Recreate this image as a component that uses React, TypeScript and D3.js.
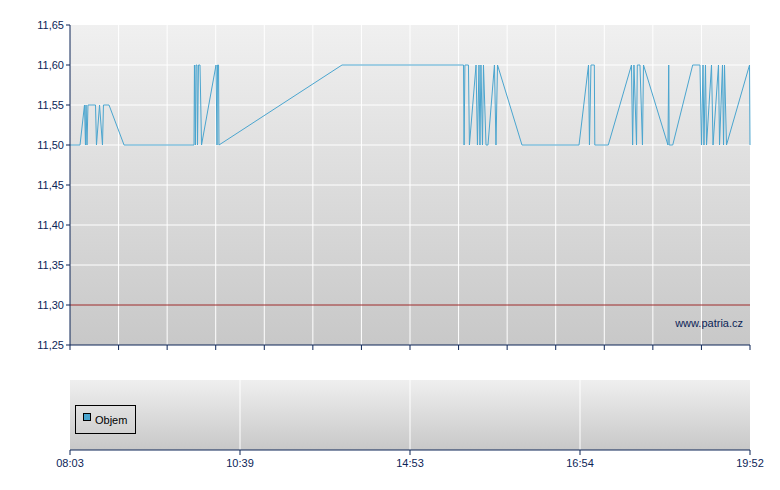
import React from "react";
import * as d3 from "d3";

// Time of trade in minutes since midnight
const times: number[] = [
  483.0, 492.2, 496.3, 497.2, 497.7, 498.6, 499.5, 506.4, 507.3, 510.1, 512.8, 513.7, 518.8, 532.6,
  596.8, 597.2, 598.1, 598.6, 599.5, 600.0, 600.9, 602.3, 603.7, 617.0, 617.9, 618.4, 619.3, 619.7,
  791.4, 930.0, 931.1, 931.5, 932.1, 934.6, 935.3, 940.0, 941.0, 942.1, 942.8, 943.5, 944.6, 945.3,
  947.1, 948.5, 953.1, 954.2, 955.3, 972.7, 1013.3,
  1022.9, 1023.9, 1025.5, 1029.0, 1029.5, 1043.6, 1067.9, 1069.1, 1070.5, 1073.2, 1074.0, 1076.8,
  1079.4, 1080.5, 1106.1, 1106.9, 1107.4, 1111.1, 1132.0, 1139.6,
  1141.2, 1142.8, 1143.8, 1145.4, 1146.5, 1151.7, 1153.3, 1159.0, 1160.1, 1163.2, 1164.3, 1165.3,
  1167.4, 1191.5, 1192.0,
];
const prices: number[] = [
  11.5, 11.5, 11.55, 11.5, 11.55, 11.5, 11.55, 11.55, 11.5, 11.55, 11.5, 11.55, 11.55, 11.5,
  11.5, 11.6, 11.5, 11.6, 11.6, 11.5, 11.6, 11.6, 11.5, 11.6, 11.5, 11.6, 11.6, 11.5,
  11.6, 11.6, 11.6, 11.5, 11.6, 11.6, 11.5, 11.6, 11.5, 11.6, 11.5, 11.6, 11.5, 11.6,
  11.5, 11.5, 11.6, 11.5, 11.6, 11.5, 11.5,
  11.6, 11.5, 11.6, 11.6, 11.5, 11.5, 11.6, 11.5, 11.6, 11.5, 11.6, 11.6,
  11.5, 11.6, 11.5, 11.6, 11.5, 11.5, 11.6, 11.6,
  11.5, 11.6, 11.5, 11.6, 11.5, 11.6, 11.5, 11.6, 11.5, 11.6, 11.5, 11.6,
  11.5, 11.6, 11.5,
];

const axisTimes: number[] = [483, 639, 893, 1014, 1192];
const axisTimeLabels: string[] = ["08:03", "10:39", "14:53", "16:54", "19:52"];
const priceTicks: number[] = [11.25, 11.3, 11.35, 11.4, 11.45, 11.5, 11.55, 11.6, 11.65];
const refPrice = 11.3;
const legendLabel = "Objem";
const watermark = "www.patria.cz";

const W = 780;
const H = 490;
const L = 70;
const R = 750;
const T = 25;
const B = 345;
const VT = 380;
const VB = 450;
const NAVY = "#0c2557";
const FONT = "Arial, 'Liberation Sans', sans-serif";

export default function App() {
  const x = d3
    .scaleLinear()
    .domain(axisTimes)
    .range(axisTimes.map((_, i) => L + ((R - L) * i) / (axisTimes.length - 1)));
  const y = d3.scaleLinear().domain([11.25, 11.65]).range([B, T]);

  const pts: [number, number][] = times.map((t, i) => [t, prices[i]]);
  const line = d3
    .line<[number, number]>()
    .x((d) => x(d[0]))
    .y((d) => y(d[1]));

  const nCols = 14;
  const cols = d3.range(nCols + 1).map((i) => L + ((R - L) * i) / nCols);
  const fmt = (v: number) => v.toFixed(2).replace(".", ",");

  return (
    <svg
      width={W}
      height={H}
      style={{ position: "absolute", left: 0, top: 0, background: "#fff" }}
      fontFamily={FONT}
    >
      <defs>
        <linearGradient id="gTop" x1="0" y1="0" x2="0" y2="1">
          <stop offset="0" stopColor="#f0f0f0" />
          <stop offset="1" stopColor="#c8c8c8" />
        </linearGradient>
        <linearGradient id="gBot" x1="0" y1="0" x2="0" y2="1">
          <stop offset="0" stopColor="#efefef" />
          <stop offset="1" stopColor="#c8c8c8" />
        </linearGradient>
      </defs>

      {/* Price panel */}
      <rect x={L} y={T} width={R - L} height={B - T} fill="url(#gTop)" />
      {cols.slice(1, -1).map((cx, i) => (
        <line key={"vc" + i} x1={cx} x2={cx} y1={T} y2={B} stroke="#fff" strokeWidth={1} />
      ))}
      {priceTicks.slice(1, -1).map((v) =>
        v === refPrice ? null : (
          <line key={"hg" + v} x1={L} x2={R} y1={y(v)} y2={y(v)} stroke="#fff" strokeWidth={1} />
        )
      )}
      <line x1={L} x2={R} y1={y(refPrice)} y2={y(refPrice)} stroke="#9e2b2b" strokeWidth={1} />
      <path d={line(pts) || ""} fill="none" stroke="#4aa5cf" strokeWidth={1} />
      <text x={743} y={327} textAnchor="end" fontSize={11} fill={NAVY}>
        {watermark}
      </text>

      {/* Price axes */}
      <line x1={L} x2={L} y1={T} y2={B} stroke={NAVY} strokeWidth={1} />
      <line x1={L} x2={R} y1={B} y2={B} stroke={NAVY} strokeWidth={1} />
      {priceTicks.map((v) => (
        <g key={"pt" + v}>
          <line x1={L - 4} x2={L} y1={y(v)} y2={y(v)} stroke={NAVY} />
          <text x={64} y={y(v) + 4} textAnchor="end" fontSize={11} fill={NAVY}>
            {fmt(v)}
          </text>
        </g>
      ))}
      {cols.map((cx, i) => (
        <line key={"bt" + i} x1={cx} x2={cx} y1={B} y2={B + 5} stroke={NAVY} />
      ))}

      {/* Volume panel */}
      <rect x={L} y={VT} width={R - L} height={VB - VT} fill="url(#gBot)" />
      {axisTimes.slice(1, -1).map((t) => (
        <line key={"vg" + t} x1={x(t)} x2={x(t)} y1={VT} y2={VB} stroke="#fff" strokeWidth={1} />
      ))}
      <line x1={L} x2={R} y1={VB} y2={VB} stroke={NAVY} strokeWidth={1} />
      {axisTimes.map((t, i) => (
        <g key={"tt" + t}>
          <line x1={x(t)} x2={x(t)} y1={VB} y2={VB + 5} stroke={NAVY} />
          <text x={x(t)} y={467} textAnchor="middle" fontSize={11} fill={NAVY}>
            {axisTimeLabels[i]}
          </text>
        </g>
      ))}

      {/* Legend */}
      <rect x={75.5} y={405.5} width={60} height={28} fill="none" stroke="#000" strokeWidth={1} />
      <rect x={83.5} y={413.5} width={7} height={7} fill="#4aa5cf" stroke="#000" strokeWidth={1} />
      <text x={95} y={424} fontSize={11} fill="#000">
        {legendLabel}
      </text>
    </svg>
  );
}
